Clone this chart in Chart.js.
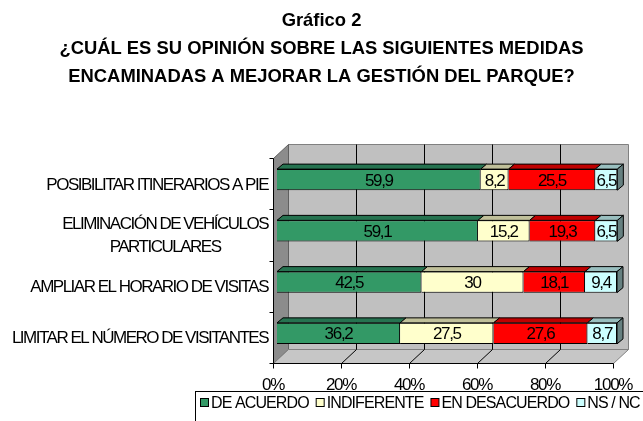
<!DOCTYPE html>
<html>
<head>
<meta charset="utf-8">
<script src="https://cdn.jsdelivr.net/npm/chart.js@4.4.0/dist/chart.umd.min.js"></script>
<style>
  html, body { margin: 0; padding: 0; background: #fff; }
  canvas { display: block; }
</style>
</head>
<body>
<canvas id="chart" width="643" height="421"></canvas>
<script>
const titleLines = ['Gráfico 2', '¿CUÁL ES SU OPINIÓN SOBRE LAS SIGUIENTES MEDIDAS', 'ENCAMINADAS A MEJORAR LA GESTIÓN DEL PARQUE?']
const categories = [
  ['POSIBILITAR ITINERARIOS A PIE'],
  ['ELIMINACIÓN DE VEHÍCULOS', 'PARTICULARES'],
  ['AMPLIAR EL HORARIO DE VISITAS'],
  ['LIMITAR EL NÚMERO DE VISITANTES']
]
const seriesNames = ['DE ACUERDO', 'INDIFERENTE', 'EN DESACUERDO', 'NS / NC']
const deAcuerdo = [59.9, 59.1, 42.5, 36.2]
const indiferente = [8.2, 15.2, 30, 27.5]
const enDesacuerdo = [25.5, 19.3, 18.1, 27.6]
const nsNc = [6.5, 6.5, 9.4, 8.7]
const xTicks = [0, 20, 40, 60, 80, 100]
const xTickLabels = ['0%', '20%', '40%', '60%', '80%', '100%']

const frontColors = ['#339966', '#FFFFCC', '#FF0000', '#CCFFFF']
const topColors = ['#267350', '#C0C09A', '#BF0000', '#99BFBF']
const sideColor = '#668080'

const FONT = "'Liberation Sans', Arial, sans-serif"
const FRONT = {dx: -4, dy: 4}     // axis plane relative to the bars
const BACK = {dx: 15, dy: -14}    // back wall relative to the axis plane
const DEPTH = {dx: 6, dy: -5}     // bar thickness

function txt(ctx, s, x, y, font, align, spacing) {
  ctx.save()
  ctx.font = font
  ctx.letterSpacing = spacing + 'px'
  ctx.textAlign = align
  ctx.textBaseline = 'alphabetic'
  ctx.fillStyle = '#000'
  ctx.fillText(s, x, y)
  ctx.restore()
}

function textWidth(ctx, s, font, spacing) {
  ctx.save()
  ctx.font = font
  ctx.letterSpacing = spacing + 'px'
  const w = ctx.measureText(s).width
  ctx.restore()
  return w
}

function poly(ctx, pts, fill, stroke) {
  ctx.beginPath()
  pts.forEach((p, i) => i ? ctx.lineTo(p[0], p[1]) : ctx.moveTo(p[0], p[1]))
  ctx.closePath()
  if (fill) { ctx.fillStyle = fill; ctx.fill() }
  if (stroke) { ctx.strokeStyle = stroke; ctx.lineWidth = 1; ctx.stroke() }
}

function line(ctx, x1, y1, x2, y2, color) {
  ctx.beginPath()
  ctx.moveTo(x1, y1)
  ctx.lineTo(x2, y2)
  ctx.strokeStyle = color
  ctx.lineWidth = 1
  ctx.stroke()
}

// walls, floor, grid and axes behind the bars
const walls = {
  id: 'walls',
  beforeDatasetsDraw(chart) {
    const {ctx, chartArea: ca, scales: {x, y}} = chart
    const L = ca.left + FRONT.dx + 0.5, R = ca.right + FRONT.dx + 0.5
    const T = ca.top + FRONT.dy + 0.5, B = ca.bottom + FRONT.dy + 0.5
    const bL = L + BACK.dx, bR = R + BACK.dx, bT = T + BACK.dy, bB = B + BACK.dy
    ctx.save()
    poly(ctx, [[bL, bT], [bR, bT], [bR, bB], [bL, bB]], '#C0C0C0', '#808080')
    poly(ctx, [[L, T], [bL, bT], [bL, bB], [L, B]], '#8C8C8C', '#606060')
    poly(ctx, [[L, B], [R, B], [bR, bB], [bL, bB]], '#C6C6C6', '#808080')
    xTicks.forEach(v => {
      const px = Math.round(x.getPixelForValue(v)) + FRONT.dx + 0.5
      if (v > 0 && v < 100) {
        line(ctx, px + BACK.dx, bT, px + BACK.dx, bB, '#000')
        line(ctx, px, B, px + BACK.dx, bB, '#000')
      }
      line(ctx, px, B, px, B + 5, '#000')
    })
    line(ctx, L, T, L, B, '#000')
    line(ctx, L, B, R, B, '#000')
    for (let i = 0; i <= categories.length; i++) {
      const py = Math.round(y.getPixelForValue(i - 0.5)) + FRONT.dy + 0.5
      line(ctx, L - 4, py, L, py, '#000')
    }
    ctx.restore()
  }
}

// 3D tops, end faces and value labels
const bars3d = {
  id: 'bars3d',
  afterDatasetsDraw(chart) {
    const {ctx} = chart
    const last = chart.data.datasets.length - 1
    ctx.save()
    chart.data.datasets.forEach((ds, di) => {
      chart.getDatasetMeta(di).data.forEach((bar, j) => {
        const {x: xe, y: yc, base, height} = bar.getProps(['x', 'y', 'base', 'height'], true)
        const top = yc - height / 2, bot = yc + height / 2
        poly(ctx, [[base, top], [xe, top], [xe + DEPTH.dx, top + DEPTH.dy], [base + DEPTH.dx, top + DEPTH.dy]], topColors[di], '#000')
        if (di === last) {
          poly(ctx, [[xe, top], [xe + DEPTH.dx, top + DEPTH.dy], [xe + DEPTH.dx, bot + DEPTH.dy], [xe, bot]], sideColor, '#000')
        }
        const label = String(ds.data[j]).replace('.', ',')
        txt(ctx, label, (base + xe) / 2, yc + 6, '17px ' + FONT, 'center', -1.3)
      })
    })
    ctx.restore()
  }
}

// title, category labels, tick labels and legend
const texts = {
  id: 'texts',
  afterDraw(chart) {
    const {ctx, chartArea: ca, scales: {x, y}, width} = chart
    const L = ca.left + FRONT.dx, B = ca.bottom + FRONT.dy
    titleLines.forEach((s, i) => txt(ctx, s, width / 2, 26 + i * 28, 'bold 18.4px ' + FONT, 'center', 0))

    const f = '17px ' + FONT
    categories.forEach((lines, i) => {
      const yc = y.getPixelForValue(i) + FRONT.dy
      const lh = 23
      const maxW = Math.max(...lines.map(s => textWidth(ctx, s, f, -1.5)))
      lines.forEach((s, k) => {
        const ly = yc + (k - (lines.length - 1) / 2) * lh + 6
        if (lines.length === 1) txt(ctx, s, L - 5, ly, f, 'right', -1.5)
        else txt(ctx, s, L - 5 - maxW / 2, ly, f, 'center', -1.5)
      })
    })

    xTicks.forEach((v, i) => {
      txt(ctx, xTickLabels[i], x.getPixelForValue(v) + FRONT.dx, B + 27, f, 'center', -1.3)
    })

    // legend
    const lf = '16px ' + FONT
    ctx.save()
    ctx.strokeStyle = '#000'
    ctx.lineWidth = 1
    ctx.strokeRect(195.5, 391.5, 460, 40)
    ctx.restore()
    let lx = 200
    chart.data.datasets.forEach((ds, di) => {
      ctx.save()
      ctx.fillStyle = ds.backgroundColor
      ctx.fillRect(lx + 0.5, 398.5, 8, 8)
      ctx.strokeStyle = '#000'
      ctx.strokeRect(lx + 0.5, 398.5, 8, 8)
      ctx.restore()
      const w = textWidth(ctx, ds.label, lf, -0.9)
      txt(ctx, ds.label, lx + 11, 408, lf, 'left', -0.9)
      lx += 11 + w + 7
    })
  }
}

const seriesData = [deAcuerdo, indiferente, enDesacuerdo, nsNc]

new Chart(document.getElementById('chart'), {
  type: 'bar',
  data: {
    labels: categories,
    datasets: seriesData.map((d, i) => ({
      label: seriesNames[i],
      data: d,
      backgroundColor: frontColors[i],
      borderColor: '#000',
      borderWidth: 1,
      barPercentage: 0.41,
      categoryPercentage: 1
    }))
  },
  options: {
    indexAxis: 'y',
    responsive: false,
    animation: false,
    layout: {padding: {left: 277, right: 26, top: 154, bottom: 62}},
    plugins: {
      legend: {display: false},
      title: {display: false},
      tooltip: {enabled: false}
    },
    scales: {
      x: {type: 'linear', stacked: true, min: 0, max: 100, display: false},
      y: {stacked: true, display: false}
    }
  },
  plugins: [walls, bars3d, texts]
})
</script>
</body>
</html>
